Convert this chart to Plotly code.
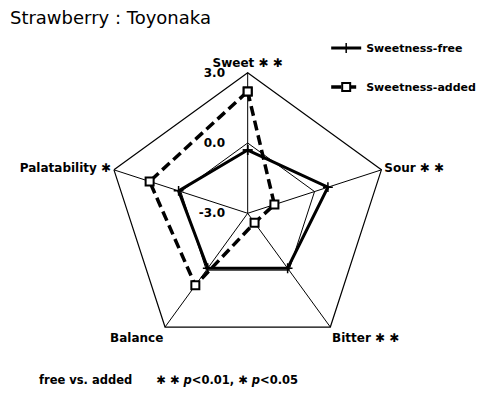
import plotly.graph_objects as go

# Sensory attributes (clockwise from the top) and significance marks
attributes = ["Sweet ✱ ✱", "Sour ✱ ✱", "Bitter ✱ ✱", "Balance", "Palatability ✱"]

# Mean scores on the -3 .. +3 scale
sweetness_free = [-0.3, 0.6, -0.1, -0.1, 0.1]
sweetness_added = [2.2, -1.8, -2.5, 0.8, 1.4]

radial_ticks = [-3, 0, 3]
radial_ticktext = ["-3.0", "0.0", "3.0"]

SCALE_MIN, SCALE_MAX = -3, 3
FONT = "DejaVu Sans"


def to_radius(values):
    # polar radius measured from the scale minimum at the centre
    return [v - SCALE_MIN for v in values]


def closed(values):
    return list(values) + [values[0]]


fig = go.Figure()

fig.add_trace(go.Scatterpolar(
    r=closed(to_radius(sweetness_free)),
    theta=closed(attributes),
    mode="lines+markers",
    name="<b>Sweetness-free</b>",
    line=dict(color="black", width=3),
    marker=dict(symbol="cross-thin", size=7, color="black", line=dict(color="black", width=1.5)),
))

fig.add_trace(go.Scatterpolar(
    r=closed(to_radius(sweetness_added)),
    theta=closed(attributes),
    mode="lines+markers",
    name="<b>Sweetness-added</b>",
    line=dict(color="black", width=3.5, dash="10px,5px"),
    marker=dict(symbol="square", size=8, color="white", line=dict(color="black", width=2)),
))

fig.update_layout(
    width=498,
    height=394,
    margin=dict(l=0, r=0, t=0, b=0),
    paper_bgcolor="white",
    plot_bgcolor="white",
    font=dict(family=FONT, color="black"),
    title=dict(
        text="Strawberry : Toyonaka",
        x=0.02, xanchor="left",
        y=0.955, yanchor="middle",
        font=dict(family=FONT, size=18, color="black"),
    ),
    polar=dict(
        domain=dict(x=[0.215, 0.7797], y=[0.1018, 0.8155]),
        bgcolor="white",
        gridshape="linear",
        radialaxis=dict(
            range=to_radius([SCALE_MIN, SCALE_MAX]),
            tickvals=to_radius(radial_ticks),
            ticktext=radial_ticktext,
            angle=90,
            tickangle=90,
            side="counterclockwise",
            showline=False,
            showgrid=True,
            gridcolor="black",
            gridwidth=1.2,
            ticks="outside",
            ticklen=18,
            tickcolor="rgba(0,0,0,0)",
            tickfont=dict(family=FONT, size=12, color="black", weight="bold"),
        ),
        angularaxis=dict(
            direction="clockwise",
            rotation=90,
            showline=True,
            linecolor="black",
            linewidth=1.2,
            showgrid=True,
            gridcolor="black",
            gridwidth=1.2,
            ticks="",
            tickfont=dict(family=FONT, size=12, color="black", weight="bold"),
        ),
    ),
    legend=dict(
        x=0.655, xanchor="left",
        y=0.915, yanchor="top",
        bgcolor="rgba(0,0,0,0)",
        tracegroupgap=20,
        font=dict(family=FONT, size=11, color="black"),
        itemwidth=30,
    ),
    annotations=[
        dict(
            text="<b>free vs. added      ✱ ✱ <i>p</i>&lt;0.01, ✱ <i>p</i>&lt;0.05</b>",
            xref="paper", yref="paper",
            x=37 / 498, y=1 - 380 / 394,
            xanchor="left", yanchor="middle",
            showarrow=False,
            font=dict(family=FONT, size=11.5, color="black"),
        ),
    ],
)

# separate legend groups so the two entries sit well apart
fig.data[0].legendgroup = "free"
fig.data[1].legendgroup = "added"

fig.write_html("out.html")
